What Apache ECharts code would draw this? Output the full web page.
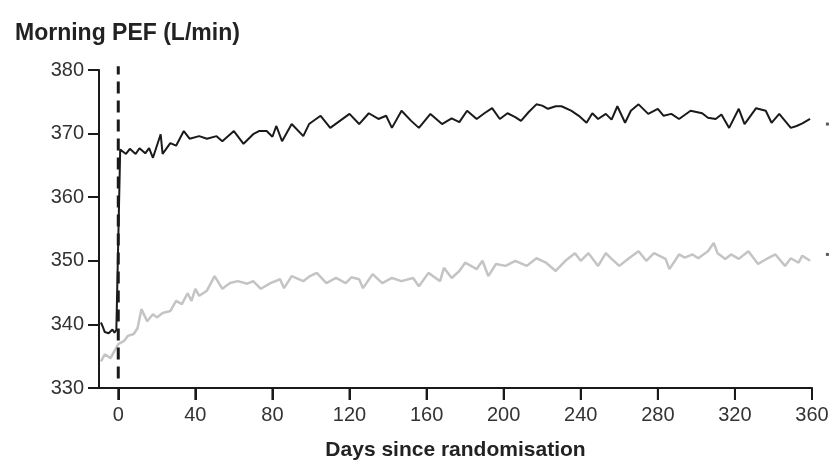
<!DOCTYPE html>
<html>
<head>
<meta charset="utf-8">
<script src="https://cdn.jsdelivr.net/npm/echarts@6/dist/echarts.min.js"></script>
<style>
  html, body { margin: 0; padding: 0; background: #fff; }
  #chart { width: 832px; height: 469px; }
</style>
</head>
<body>
<div id="chart"></div>
<script>
// Morning PEF, active arm (black) - day, value
const blackDays = [-9, -8, -7, -6, -5, -4, -3, -2, -1, 0,
  1, 4, 6, 9, 11, 14, 16, 18, 22, 23, 27, 30, 34, 37, 42, 46, 51, 54, 60, 65, 70, 73, 77, 80,
  82, 85, 90, 96, 99, 105, 110, 115, 120, 125, 130, 135, 139, 142, 147, 152, 156, 162, 168,
  173, 177, 181, 186, 190, 194, 198, 202, 206, 209, 213, 217, 220, 223, 227, 230, 235, 239,
  243, 246, 249, 253, 256, 259, 263, 266, 270, 275, 280, 283, 287, 291, 297, 303, 306, 310,
  313, 317, 322, 325, 331, 336, 339, 343, 346, 349, 352, 355, 359];
const blackVals = [340.3, 339.6, 338.8, 338.5, 338.6, 338.4, 339.2, 338.7, 339.1, 338.9,
  367.5, 366.8, 367.6, 366.8, 367.7, 366.9, 367.7, 366.2, 369.9, 366.8, 368.5, 368.1, 370.4,
  369.2, 369.6, 369.2, 369.6, 368.8, 370.4, 368.4, 369.9, 370.4, 370.4, 369.5,
  371.2, 368.8, 371.5, 369.6, 371.5, 372.8, 370.9, 372.0, 373.1, 371.5, 373.2, 372.3, 372.8,
  370.9, 373.6, 372.0, 370.9, 373.1, 371.5, 372.4, 371.8, 373.6, 372.3, 373.2, 374.0, 372.3,
  373.2, 372.6, 372.0, 373.4, 374.6, 374.4, 373.9, 374.3, 374.3, 373.6, 372.8, 371.7, 373.2,
  372.3, 373.1, 372.2, 374.3, 371.7, 373.6, 374.6, 373.1, 373.9, 372.8, 373.1, 372.3, 373.6,
  373.2, 372.5, 372.3, 373.0, 370.9, 373.9, 371.5, 374.0, 373.6, 371.7, 373.1, 372.0, 370.9,
  371.2, 371.6, 372.3];

// Morning PEF, comparator arm (grey)
const greyDays = [-9, -7, -4, -2, 0, 3, 5, 8, 10, 12, 15, 18, 20, 23, 27, 30, 33, 36, 38, 40,
  42, 46, 50, 54, 58, 62, 67, 70, 74, 79, 84, 86, 90, 96, 99, 103, 108, 113, 118, 121, 125,
  127, 132, 137, 142, 147, 153, 156, 161, 167, 169, 173, 177, 180, 186, 189, 192, 196, 201,
  206, 212, 217, 222, 227, 232, 237, 240, 244, 249, 253, 256, 260, 265, 270, 274, 278, 284,
  286, 291, 294, 298, 301, 306, 309, 311, 315, 318, 322, 327, 332, 337, 341, 346, 349, 353,
  355, 359];
const greyVals = [334.2, 335.3, 334.7, 335.8, 336.9, 337.4, 338.2, 338.5, 339.4, 342.4, 340.5,
  341.6, 341.1, 341.8, 342.1, 343.7, 343.2, 344.9, 343.7, 345.6, 344.5, 345.3, 347.6, 345.6,
  346.5, 346.8, 346.4, 346.8, 345.6, 346.5, 347.1, 345.7, 347.6, 346.8, 347.5, 348.1, 346.5,
  347.3, 346.5, 347.4, 347.1, 345.7, 347.9, 346.5, 347.3, 346.8, 347.3, 346.0, 348.1, 346.8,
  348.9, 347.3, 348.4, 349.7, 348.7, 350.0, 347.6, 349.5, 349.2, 350.0, 349.2, 350.4, 349.7,
  348.4, 350.0, 351.2, 350.0, 351.2, 349.2, 351.2, 350.3, 349.2, 350.4, 351.5, 350.0, 351.2,
  350.3, 348.7, 351.0, 350.5, 351.0, 350.4, 351.5, 352.8, 351.2, 350.3, 351.0, 350.3, 351.5,
  349.5, 350.4, 351.0, 349.2, 350.4, 349.7, 350.8, 350.0];

// randomisation marker and end-of-line marks
const randomDay = 0;
const randomRange = [331.5, 380.6];
const endMarks = [[368, 371.5], [368, 351.0]];

const xTicks = [0, 40, 80, 120, 160, 200, 240, 280, 320, 360];
const xMin = -10, xMax = 360;
const yMin = 330, yMax = 380, yStep = 10;

const pair = (d, v) => d.map((x, i) => [x, v[i]]);

const chart = echarts.init(document.getElementById('chart'), null, { renderer: 'canvas' });

const font = 'Liberation Sans, Arial, sans-serif';

const option = {
  animation: false,
  title: {
    text: 'Morning PEF (L/min)',
    left: 10,
    top: 17,
    textStyle: { fontFamily: font, fontSize: 23, fontWeight: 'bold', color: '#222' }
  },
  grid: { left: 99, right: 20, top: 70, bottom: 81 },
  xAxis: {
    type: 'value',
    position: 'bottom',
    min: xMin,
    max: xMax,
    name: 'Days since randomisation',
    nameLocation: 'middle',
    nameGap: 52,
    nameTextStyle: { fontFamily: font, fontSize: 21, fontWeight: 'bold', color: '#222' },
    axisLine: { show: true, onZero: false, lineStyle: { color: '#1a1a1a', width: 2 } },
    axisTick: { show: true, inside: false, customValues: xTicks, length: 12, lineStyle: { color: '#1a1a1a', width: 2 } },
    axisLabel: { customValues: xTicks, margin: 17, fontFamily: font, fontSize: 20, color: '#333' },
    splitLine: { show: false }
  },
  yAxis: {
    type: 'value',
    position: 'left',
    min: yMin,
    max: yMax,
    interval: yStep,
    axisLine: { show: true, onZero: false, lineStyle: { color: '#1a1a1a', width: 2 } },
    axisTick: { show: true, inside: false, length: 11, lineStyle: { color: '#1a1a1a', width: 2 } },
    axisLabel: { margin: 15, fontFamily: font, fontSize: 20, color: '#333' },
    splitLine: { show: false }
  },
  series: [
    {
      name: 'Grey',
      type: 'line',
      data: pair(greyDays, greyVals),
      symbol: 'none',
      lineStyle: { color: '#c4c4c4', width: 2.5 },
      z: 2
    },
    {
      name: 'Black',
      type: 'line',
      data: pair(blackDays, blackVals),
      symbol: 'none',
      lineStyle: { color: '#1a1a1a', width: 2 },
      z: 3
    },
    {
      name: 'Randomisation',
      type: 'line',
      data: randomRange.map(v => [randomDay, v]),
      symbol: 'none',
      clip: false,
      lineStyle: { color: '#1a1a1a', width: 3, type: [12, 7] },
      z: 4
    },
    {
      name: 'Marks',
      type: 'scatter',
      data: endMarks,
      clip: false,
      symbol: 'rect',
      symbolSize: 3,
      itemStyle: { color: '#333' }
    }
  ]
};

chart.setOption(option);

// day ticks below the x axis, placed through the axis scale
const tickMarks = xTicks.map(v => {
  const p = chart.convertToPixel({ gridIndex: 0 }, [v, yMin]);
  return {
    type: 'rect',
    silent: true,
    z: 100,
    shape: { x: p[0] - 1, y: p[1], width: 2, height: 12 },
    style: { fill: '#1a1a1a' }
  };
});
chart.setOption({ graphic: tickMarks });
</script>
</body>
</html>
